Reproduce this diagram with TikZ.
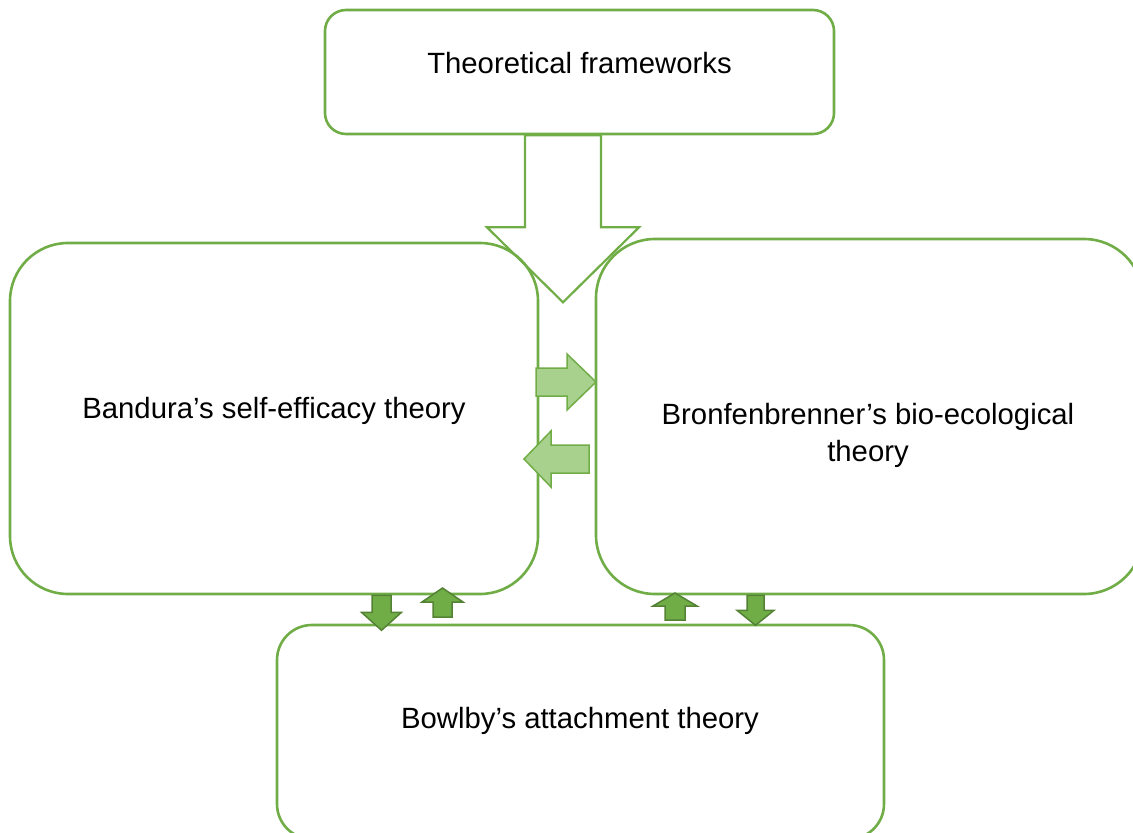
\documentclass[tikz,border=0pt]{standalone}
\usepackage{fontspec}
\setmainfont{Liberation Sans}
\definecolor{boxgreen}{HTML}{70AD47}
\definecolor{darkgreen}{HTML}{548235}
\definecolor{lightgreen}{HTML}{A9D18E}
% block arrow: style, tail, rotation, length, shaft half-width, head half-width, head length
\newcommand{\blockarrow}[7]{%
  \draw[#1,shift={(#2)},rotate=#3]
    (0,-#5) -- (#4-#7,-#5) -- (#4-#7,-#6) -- (#4,0) -- (#4-#7,#6)
    -- (#4-#7,#5) -- (0,#5) -- cycle;}
\begin{document}
\begin{tikzpicture}[x=1pt,y=-1pt,
  box/.style={draw=boxgreen, line width=2.6pt, inner sep=0pt},
  txt/.style={font=\fontsize{29.3}{37}\selectfont, align=center, text=black},
  bigarrow/.style={draw=boxgreen, line width=2.2pt, line join=miter},
  softarrow/.style={draw=boxgreen, fill=lightgreen, line width=1.5pt},
  solidarrow/.style={draw=darkgreen, fill=boxgreen, line width=1.5pt}]
\useasboundingbox (0,0) rectangle (1133,833);
\clip (0,0) rectangle (1133,833);

% framework boxes
\node[box, rounded corners=21pt, minimum width=509pt, minimum height=124pt] (top) at (579.5,72) {};
\node[box, rounded corners=58pt, minimum width=528pt, minimum height=351pt] (left) at (274,418.5) {};
\node[box, rounded corners=59pt, minimum width=547pt, minimum height=355pt] (right) at (869.5,416.5) {};
\node[box, rounded corners=35pt, minimum width=607pt, minimum height=214pt] (bottom) at (580.5,732) {};

% labels
\node[txt] (toplabel) at (579.5,63) {Theoretical frameworks};
\node[txt] (leftlabel) at (274,411) {Bandura’s self-efficacy theory};
\node[txt] (rightlabel) at (868,435) {Bronfenbrenner’s bio-ecological\\theory};
\node[txt] (bottomlabel) at (580,721) {Bowlby’s attachment theory};

% arrow tails
\coordinate (t0) at ([xshift=-16.5pt]top.south);
\coordinate (t1) at (536,382);
\coordinate (t2) at (589,459);
\coordinate (t3) at ([xshift=107.5pt]left.south);
\coordinate (t4) at (442.5,617);
\coordinate (t5) at (675,620);
\coordinate (t6) at ([xshift=-114pt]right.south);

% big downward arrow
\blockarrow{bigarrow}{t0}{-90}{167}{38}{76}{75}

% exchange between the two upper theories
\blockarrow{softarrow}{t1}{0}{60}{14}{28}{29}
\blockarrow{softarrow}{t2}{180}{65}{14}{28}{27}

% exchange with the attachment theory
\blockarrow{solidarrow}{t3}{-90}{35}{9.5}{20}{18}
\blockarrow{solidarrow}{t4}{90}{29}{9.5}{20.5}{14}
\blockarrow{solidarrow}{t5}{90}{27}{10}{22}{13}
\blockarrow{solidarrow}{t6}{-90}{30}{8.5}{18.5}{15}
\end{tikzpicture}
\end{document}
